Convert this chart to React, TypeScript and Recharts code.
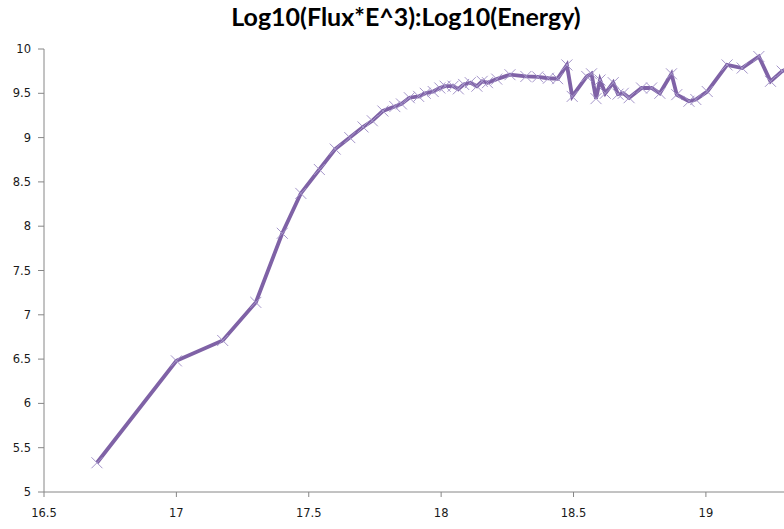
import { CartesianGrid, Line, LineChart, XAxis, YAxis } from 'recharts';

// log10(E) bins and log10(flux * E^3)
const logEnergy = [
  16.7, 17.0, 17.175, 17.3, 17.4, 17.47, 17.54, 17.6, 17.655, 17.705, 17.74, 17.78, 17.825, 17.85,
  17.88, 17.915, 17.94, 17.97, 17.995, 18.015, 18.045, 18.065, 18.085, 18.11, 18.135, 18.155, 18.175,
  18.21, 18.26, 18.32, 18.365, 18.405, 18.44, 18.475, 18.495, 18.55, 18.568, 18.585, 18.6, 18.62,
  18.65, 18.668, 18.688, 18.71, 18.757, 18.795, 18.826, 18.87, 18.89, 18.936, 18.962, 19.005, 19.08,
  19.137, 19.2, 19.244, 19.288, 19.33
];
const logFluxE3 = [
  5.33, 6.48, 6.71, 7.14, 7.92, 8.37, 8.64, 8.87, 9.0, 9.12, 9.19, 9.3, 9.35, 9.38, 9.45, 9.465, 9.5,
  9.52, 9.56, 9.58, 9.58, 9.55, 9.6, 9.62, 9.58, 9.635, 9.62, 9.66, 9.71, 9.69, 9.685, 9.67, 9.665,
  9.82, 9.465, 9.69, 9.72, 9.44, 9.65, 9.5, 9.62, 9.49, 9.5, 9.45, 9.56, 9.56, 9.5, 9.72, 9.485, 9.41,
  9.43, 9.52, 9.82, 9.785, 9.915, 9.635, 9.75, 9.8
];
const xTicks = [16.5, 17, 17.5, 18, 18.5, 19];
const yTicks = [5, 5.5, 6, 6.5, 7, 7.5, 8, 8.5, 9, 9.5, 10];

const data = logEnergy.map((e, i) => ({ e, f: logFluxE3[i] }));

const tickFont = '"DejaVu Sans", Verdana, sans-serif';
const tickStyle = { fontFamily: tickFont, fontSize: 11.5, fill: '#1a1a1a' };

function CrossDot(props: any) {
  const { cx, cy, index } = props;
  if (cx == null || cy == null) return <g key={index} />;
  const s = 5.5;
  return (
    <path
      key={index}
      d={`M${cx - s},${cy - s}L${cx + s},${cy + s}M${cx - s},${cy + s}L${cx + s},${cy - s}`}
      stroke="#a596ca"
      strokeWidth={1}
      fill="none"
    />
  );
}

export default function App() {
  return (
    <div
      style={{
        position: 'absolute',
        left: 0,
        top: 0,
        width: 784,
        height: 529,
        overflow: 'hidden',
        background: '#fff'
      }}
    >
      <div
        style={{
          position: 'absolute',
          left: 0,
          top: 0,
          width: 812,
          textAlign: 'center',
          fontFamily: 'Lato, "Open Sans", sans-serif',
          fontWeight: 700,
          fontSize: 25,
          lineHeight: '32px',
          color: '#000'
        }}
      >
        Log10(Flux*E^3):Log10(Energy)
      </div>
      <LineChart
        width={784}
        height={529}
        data={data}
        margin={{ top: 49, right: 0, bottom: 0, left: 0 }}
        style={{ fontFamily: tickFont }}
      >
        <CartesianGrid stroke="none" />
        <XAxis
          type="number"
          dataKey="e"
          domain={[16.5, 19.295]}
          ticks={xTicks}
          allowDataOverflow
          height={37}
          stroke="#868686"
          tickSize={5}
          tickMargin={12}
          tick={tickStyle}
        />
        <YAxis
          type="number"
          domain={[5, 10]}
          ticks={yTicks}
          width={44}
          stroke="#868686"
          tickSize={6}
          tickMargin={7}
          tick={tickStyle}
        />
        <Line
          type="linear"
          dataKey="f"
          stroke="#7f62a6"
          strokeWidth={3.8}
          dot={CrossDot}
          activeDot={false}
          isAnimationActive={false}
        />
      </LineChart>
    </div>
  );
}
